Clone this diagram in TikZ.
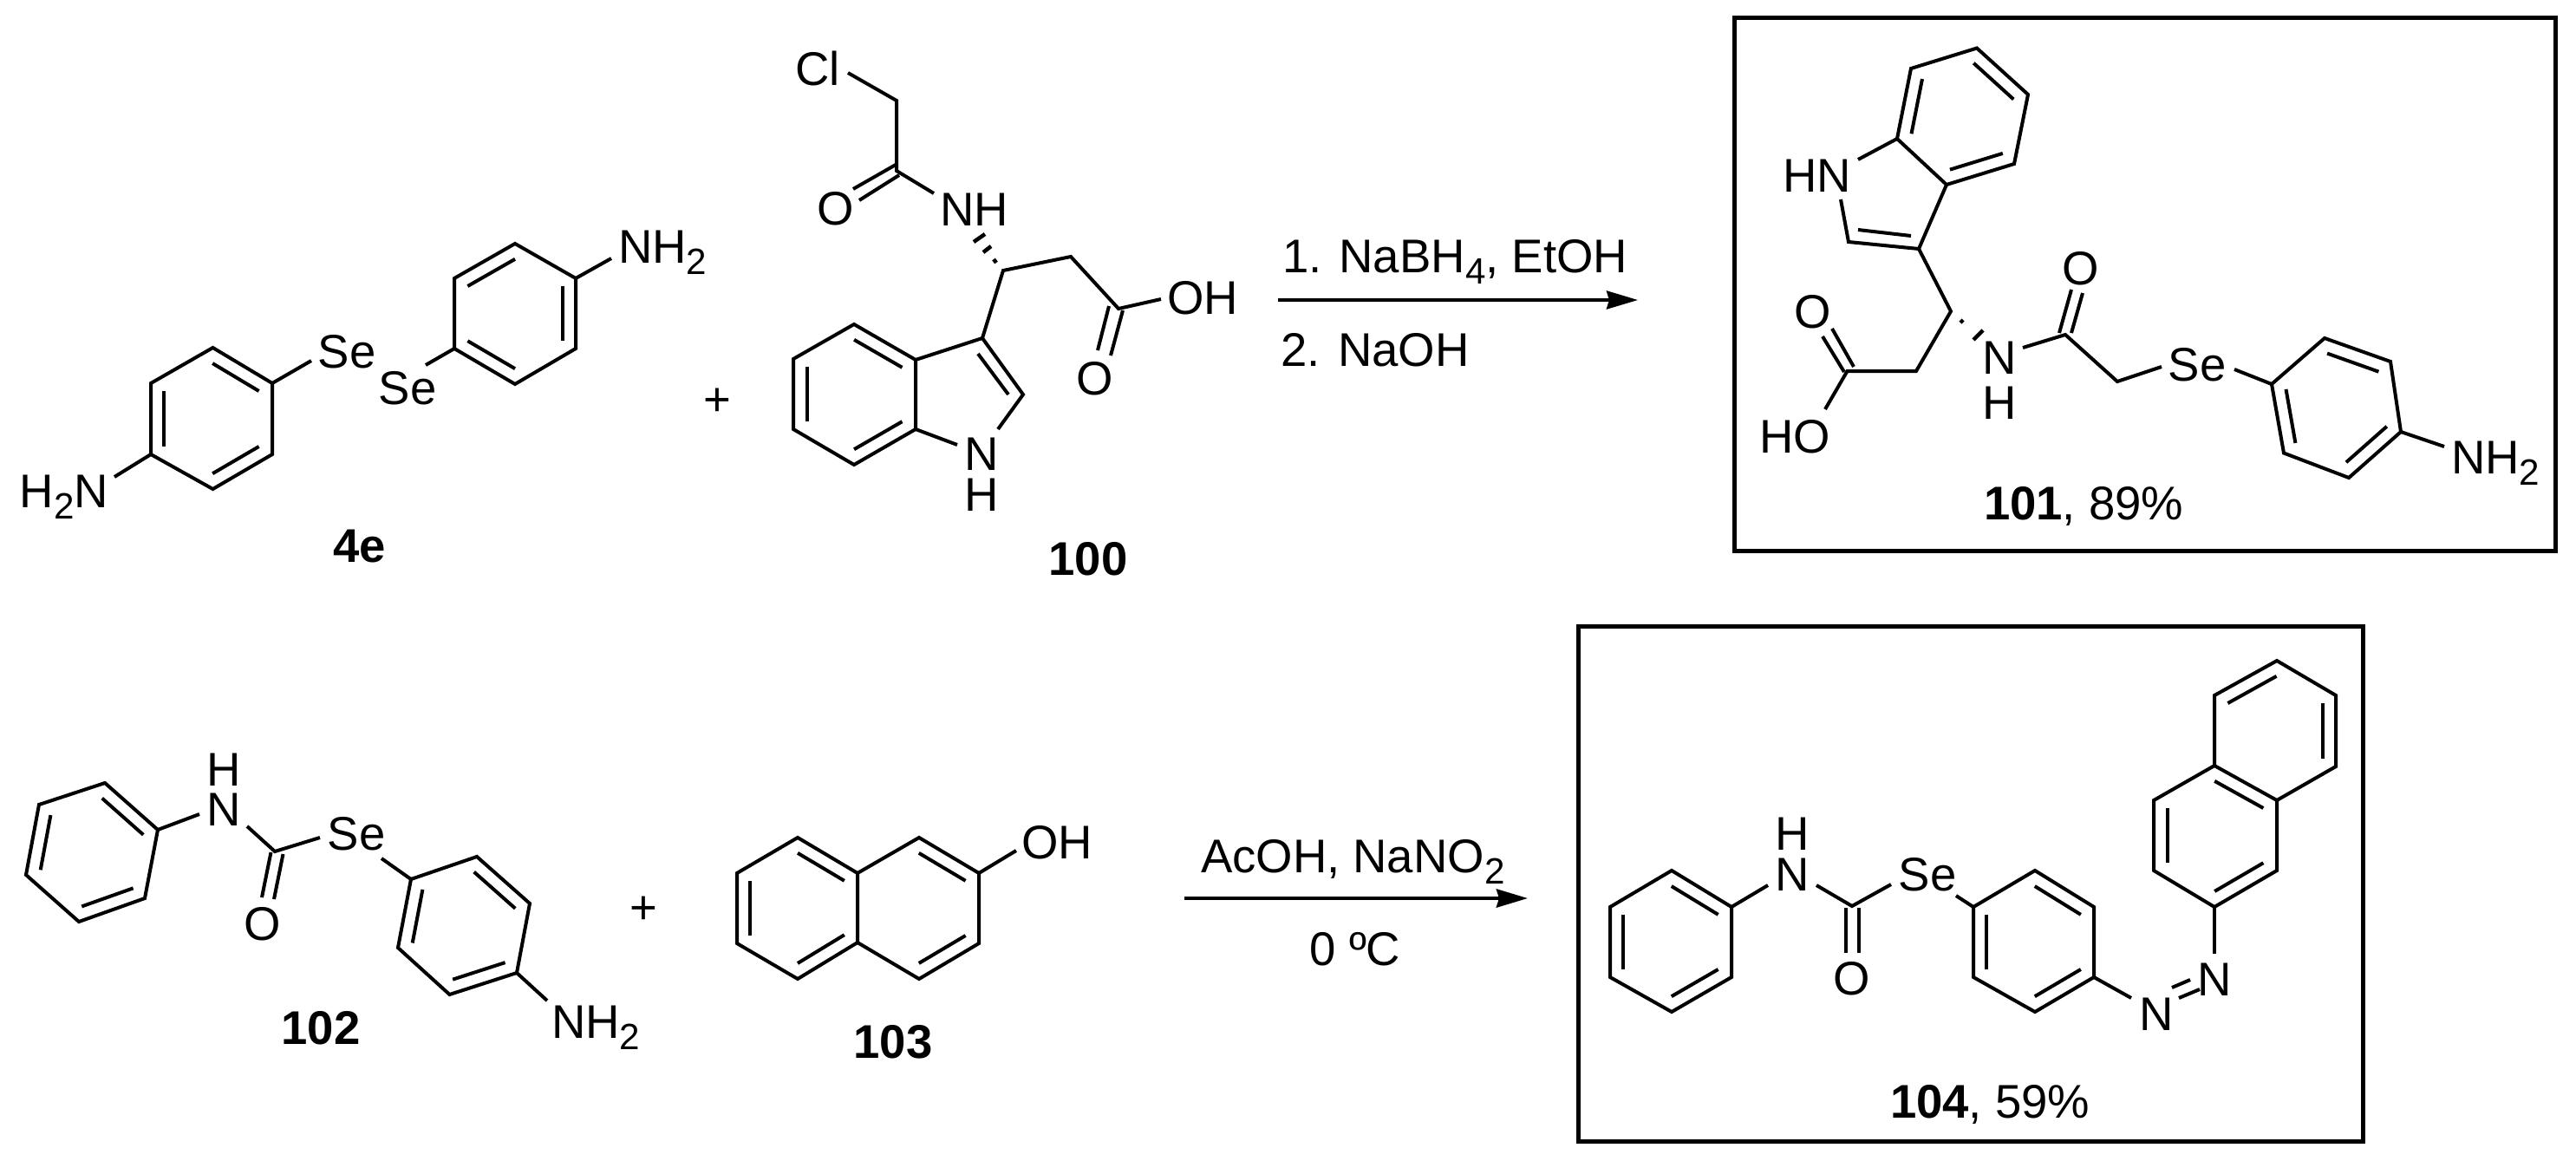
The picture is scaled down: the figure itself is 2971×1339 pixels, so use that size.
\documentclass[tikz,border=0pt]{standalone}
\usepackage{fontspec}
\setmainfont{Liberation Sans}
\usetikzlibrary{calc,arrows.meta}
\newcommand{\sbs}[1]{\raisebox{-0.24em}{\fontsize{12pt}{12pt}\selectfont #1}}
\newcommand{\dbl}[3]{\draw[bond] ($(#1)!0.78!(#2)$) -- ($(#1)!0.78!(#3)$);}
\newcommand{\pts}[1]{\foreach \n/\x/\y in {#1} {\coordinate (\n) at (\x,\y);}}
\tikzset{
  bond/.style={line width=0.04cm,line join=miter,line cap=butt},
  atom/.style={inner sep=0pt,outer sep=0pt,font=\fontsize{15.5pt}{18pt}\selectfont,yshift=-0.195cm,anchor=base},
  atomw/.style={atom,anchor=base west},
  atome/.style={atom,anchor=base east},
  cmpd/.style={atom,font=\fontsize{15.5pt}{18pt}\selectfont\bfseries},
  frame/.style={line width=0.05cm},
  rxn/.style={-{Stealth[length=0.36cm,width=0.21cm,inset=0.03cm]}},
}
\begin{document}
\begin{tikzpicture}[x=0.01cm,y=-0.01cm]
\useasboundingbox (0,0) rectangle (2971,1339);

% ---------- 4e
\pts{A1/245.5/401,A2/314/442,A3/314/524,A4/245.5/564,A5/174/524,A6/174/442,Ac/244/483,
     B1/594/281,B2/664/321,B3/664/402,B4/594/443,B5/524/402,B6/524/321,Bc/594/362,
     ese1/359/416,ese2/491/421,enh/705/298,enh2/132/550}
\draw[bond] (A1)--(A2)--(A3)--(A4)--(A5)--(A6)--cycle;
\draw[bond] (B1)--(B2)--(B3)--(B4)--(B5)--(B6)--cycle;
\dbl{Ac}{A1}{A2}\dbl{Ac}{A3}{A4}\dbl{Ac}{A5}{A6}
\dbl{Bc}{B1}{B6}\dbl{Bc}{B2}{B3}\dbl{Bc}{B4}{B5}
\node[atom] (se1) at (400,405) {Se};
\node[atom] (se2) at (470,447) {Se};
\node[atomw] (nh2a) at (713,284) {NH\sbs{2}};
\node[atome] (nh2b) at (125,566) {H\sbs{2}N};
\draw[bond] (A2)--(ese1);
\draw[bond] (ese2)--(B5);
\draw[bond] (B2)--(enh);
\draw[bond] (A5)--(enh2);
\node[cmpd] (c4e) at (414.5,629) {4e};
\node[atom] (plus1) at (827,460) {+};

% ---------- 100
\pts{C1/915/414,C2/915/495,C3/985/536,C4/1056/495,C5/1056/415,C6/985/374,Cc/985.5/455,
     D3/1133/390,D2/1180/455,eN1/1151/495,eN2/1104/513,
     Dd1/1128/408,Dd2/1163/455,
     S1/1157/312,CH1/1235/296,K1/1290/356,eOH/1339/345,
     K1a/1295/358,K1b/1281/410,K1c/1279/353,K1d/1266/404,
     AC/1034/197,AM/1034/116,eCl/978/84,eNH/1077/223,
     Ao1/1033/190,Ao2/984/218,Ao3/1037/202,Ao4/991/231,
     h1/1123/279,h2/1136/270,h3/1134/291,h4/1143/284,h5/1146/299,h6/1149/303}
\draw[bond] (C1)--(C2)--(C3)--(C4)--(C5)--(C6)--cycle;
\dbl{Cc}{C1}{C2}\dbl{Cc}{C3}{C4}\dbl{Cc}{C5}{C6}
\draw[bond] (C5)--(D3)--(D2)--(eN1);
\draw[bond] (C4)--(eN2);
\draw[bond] (Dd1)--(Dd2);
\draw[bond] (D3)--(S1)--(CH1)--(K1)--(eOH);
\draw[bond] (K1a)--(K1b);
\draw[bond] (K1c)--(K1d);
\draw[bond] (eCl)--(AM)--(AC)--(eNH);
\draw[bond] (Ao1)--(Ao2);
\draw[bond] (Ao3)--(Ao4);
\draw[bond,line width=0.045cm] (h1)--(h2);
\draw[bond,line width=0.045cm] (h3)--(h4);
\draw[bond,line width=0.045cm] (h5)--(h6);
\node[atomw] (cl) at (917,79) {Cl};
\node[atom] (o1) at (964,240) {O};
\node[atomw] (nh1) at (1084,241) {NH};
\node[atomw] (oh1) at (1346,343) {OH};
\node[atom] (o2) at (1263,436) {O};
\node[atom] (n1) at (1132,522.5) {N};
\node[atom] (h1t) at (1132,570) {H};
\node[cmpd] (c100) at (1255,644) {100};

% ---------- arrow 1
\coordinate (r1s) at (1474,346);
\coordinate (r1e) at (1889,346);
\draw[rxn,line width=0.037cm] (r1s)--(r1e);
\node[atomw] (t1) at (1479,295) {1. NaBH\sbs{4}, EtOH};
\node[atomw] (t2) at (1477.5,403) {2. NaOH};

% ---------- 101
\draw[frame] (2000,20) rectangle (2947,635);
\pts{E1/2280/55.5,E2/2339/109,E3/2323/189,E4/2245/213,E5/2188/160,E6/2204/79,Ec/2263/134,
     eHN/2143/184,F2/2132/279,F3/2213/287,eF/2123/230,Fd1/2143/265,Fd2/2204/272,
     T1/2250/359,T2/2210/428,T3/2130.5/428,eHO/2105/472,
     T3a/2102/388,T3b/2127/429,T3c/2113/379,T3d/2138/423,
     i1/2261/369,i2/2264/372,i3/2276/392,i4/2287/381,
     eN/2333/401,G1/2382/386,G2/2442/440,eSe/2493/423,
     Ga/2375/384,Gb/2389/334,Gc/2389/384,Gd/2402/338,
     eSe2/2577/426,
     R1/2620/443,R2/2681/390,R3/2757/417,R4/2769/498,R5/2709/551,R6/2634/522.5,Rc/2695/470,eNH2/2819/515}
\draw[bond] (E1)--(E2)--(E3)--(E4)--(E5)--(E6)--cycle;
\dbl{Ec}{E1}{E2}\dbl{Ec}{E3}{E4}\dbl{Ec}{E5}{E6}
\draw[bond] (E5)--(eHN);
\draw[bond] (E4)--(F3)--(F2)--(eF);
\draw[bond] (Fd1)--(Fd2);
\draw[bond] (F3)--(T1)--(T2)--(T3)--(eHO);
\draw[bond] (T3a)--(T3b);
\draw[bond] (T3c)--(T3d);
\draw[bond,line width=0.045cm] (i1)--(i2);
\draw[bond,line width=0.045cm] (i3)--(i4);
\draw[bond] (eN)--(G1)--(G2)--(eSe);
\draw[bond] (Ga)--(Gb);
\draw[bond] (Gc)--(Gd);
\draw[bond] (eSe2)--(R1);
\draw[bond] (R1)--(R2)--(R3)--(R4)--(R5)--(R6)--cycle;
\dbl{Rc}{R2}{R3}\dbl{Rc}{R4}{R5}\dbl{Rc}{R6}{R1}
\draw[bond] (R4)--(eNH2);
\node[atomw] (hn) at (2056,202) {HN};
\node[atom] (o3) at (2091,359) {O};
\node[atomw] (ho) at (2029,503) {HO};
\node[atom] (n2) at (2306,412) {N};
\node[atom] (h2t) at (2306,464) {H};
\node[atom] (o4) at (2400,309) {O};
\node[atom] (se3) at (2534,420) {Se};
\node[atomw] (nh2c) at (2827,527) {NH\sbs{2}};
\node[atomw] (c101) at (2288,580) {\textbf{101}, 89\%};

% ---------- 102
\pts{P1/121/903,P2/182/957,P3/167/1036,P4/91/1063,P5/30/1009,P6/45/928,Pc/106/983,
     eP/230/939,eQ/285/953,Q/317/982,eQ2/369/966,
     Qa/312.5/983,Qb/302/1035,Qc/326.5/985,Qd/316/1037,
     eQ3/440/990,
     U1/474/1014,U2/550/988,U3/611/1042,U4/596/1122,U5/518.5/1147,U6/459/1093,Uc/535/1068,eU/631/1154}
\draw[bond] (P1)--(P2)--(P3)--(P4)--(P5)--(P6)--cycle;
\dbl{Pc}{P1}{P2}\dbl{Pc}{P3}{P4}\dbl{Pc}{P5}{P6}
\draw[bond] (P2)--(eP);
\draw[bond] (eQ)--(Q)--(eQ2);
\draw[bond] (Qa)--(Qb);
\draw[bond] (Qc)--(Qd);
\draw[bond] (eQ3)--(U1);
\draw[bond] (U1)--(U2)--(U3)--(U4)--(U5)--(U6)--cycle;
\dbl{Uc}{U2}{U3}\dbl{Uc}{U4}{U5}\dbl{Uc}{U6}{U1}
\draw[bond] (U4)--(eU);
\node[atom] (n3) at (258,933) {N};
\node[atom] (h3t) at (258,887) {H};
\node[atom] (se4) at (411,961) {Se};
\node[atom] (o5) at (303,1065) {O};
\node[atomw] (nh2d) at (636,1177.5) {NH\sbs{2}};
\node[cmpd] (c102) at (370,1185) {102};
\node[atom] (plus2) at (742,1046) {+};

% ---------- 103
\pts{V1/920/966,V2/989/1007,V3/989/1087,V4/920/1129,V5/850/1088,V6/850/1007,Vc/920/1047,
     W1/1060/966,W2/1129/1007,W3/1129/1088,W4/1060/1129,Wc/1059/1047,eW/1172/981}
\draw[bond] (V1)--(V2)--(V3)--(V4)--(V5)--(V6)--cycle;
\draw[bond] (V2)--(W1)--(W2)--(W3)--(W4)--(V3);
\dbl{Vc}{V1}{V2}\dbl{Vc}{V3}{V4}\dbl{Vc}{V5}{V6}
\dbl{Wc}{W1}{W2}\dbl{Wc}{W3}{W4}
\draw[bond] (W2)--(eW);
\node[atomw] (oh2) at (1178,971) {OH};
\node[cmpd] (c103) at (1030,1201) {103};

% ---------- arrow 2
\coordinate (r2s) at (1366,1036);
\coordinate (r2e) at (1762,1036);
\draw[rxn,line width=0.045cm] (r2s)--(r2e);
\node[atomw] (t3) at (1385,987) {AcOH, NaNO\sbs{2}};
\node[atom] (t4) at (1563,1094) {0 ºC};

% ---------- 104
\draw[frame] (1820,722) rectangle (2725,1316);
\pts{L1/1928/1004,L2/1997/1046,L3/1997/1127,L4/1928/1167,L5/1857/1127,L6/1857/1046,Lc/1927/1086,
     eL/2039/1021,eM/2095/1021,M/2136/1045,eM2/2181/1020,
     Ma/2129/1047,Mb/2129/1099,Mc/2144/1047,Md/2144/1099,
     eM3/2256/1033,
     Y1/2276/1046,Y2/2347/1004,Y3/2415/1046,Y4/2415/1127,Y5/2347/1167,Y6/2276/1127,Yc/2346/1086,eY/2458/1151,
     Na/2505/1139,Nb/2526/1130,Nc/2513/1151,Nd/2537/1141,
     eZ/2554/1100,
     Z1/2554/1046,Z2/2626/1004,Z3/2626/923,Z4/2554/883,Z5/2484/923,Z6/2484/1004,Zc/2555/964,
     X1/2694/884,X2/2694/802,X3/2626/762,X4/2554/802,Xc/2624/843}
\draw[bond] (L1)--(L2)--(L3)--(L4)--(L5)--(L6)--cycle;
\dbl{Lc}{L1}{L2}\dbl{Lc}{L3}{L4}\dbl{Lc}{L5}{L6}
\draw[bond] (L2)--(eL);
\draw[bond] (eM)--(M)--(eM2);
\draw[bond] (Ma)--(Mb);
\draw[bond] (Mc)--(Md);
\draw[bond] (eM3)--(Y1);
\draw[bond] (Y1)--(Y2)--(Y3)--(Y4)--(Y5)--(Y6)--cycle;
\dbl{Yc}{Y2}{Y3}\dbl{Yc}{Y4}{Y5}\dbl{Yc}{Y6}{Y1}
\draw[bond] (Y4)--(eY);
\draw[bond] (Na)--(Nb);
\draw[bond] (Nc)--(Nd);
\draw[bond] (eZ)--(Z1);
\draw[bond] (Z1)--(Z2)--(Z3)--(Z4)--(Z5)--(Z6)--cycle;
\draw[bond] (Z3)--(X1)--(X2)--(X3)--(X4)--(Z4);
\dbl{Zc}{Z1}{Z2}\dbl{Zc}{Z3}{Z4}\dbl{Zc}{Z5}{Z6}
\dbl{Xc}{X1}{X2}\dbl{Xc}{X3}{X4}
\node[atom] (n4) at (2067,1008) {N};
\node[atom] (h4t) at (2067,961) {H};
\node[atom] (se5) at (2223,1008) {Se};
\node[atom] (o6) at (2136,1128) {O};
\node[atom] (n5) at (2487,1169) {N};
\node[atom] (n6) at (2554,1129) {N};
\node[atomw] (c104) at (2180,1270) {\textbf{104}, 59\%};
\end{tikzpicture}
\end{document}
